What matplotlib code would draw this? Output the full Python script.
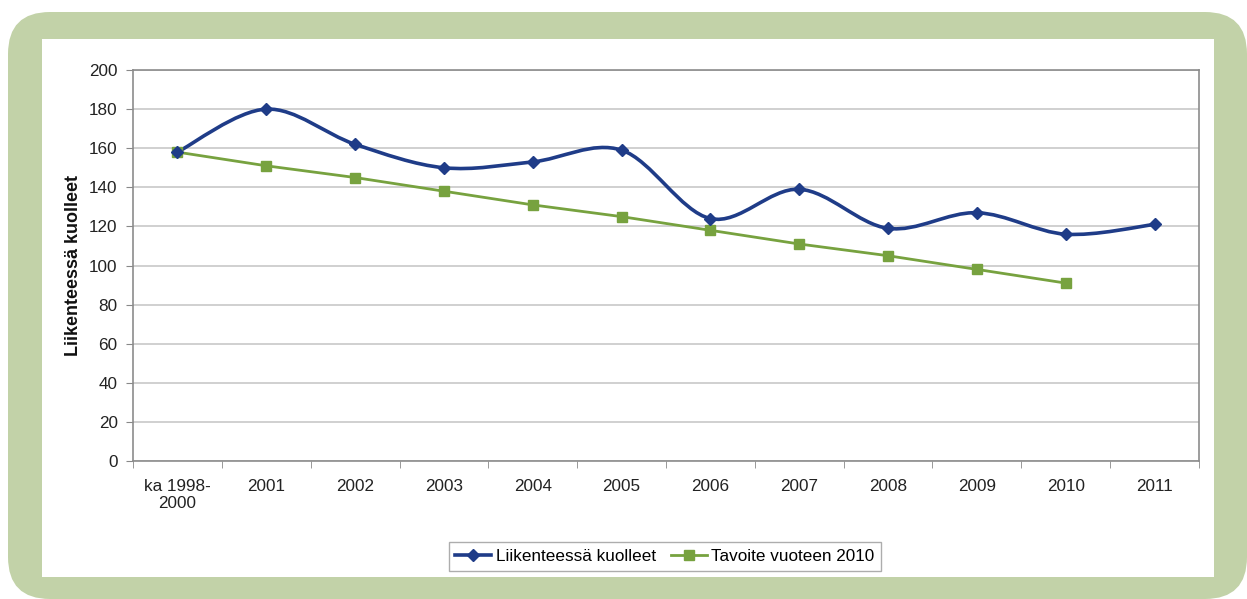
import matplotlib
matplotlib.use('Agg')
import matplotlib.pyplot as plt
from matplotlib.patches import FancyBboxPatch, Rectangle, PathPatch
from matplotlib.path import Path
from matplotlib.lines import Line2D
import numpy as np

plt.rcParams['font.family'] = ['Liberation Sans', 'DejaVu Sans']

# data
categories = ['ka 1998-\n2000', '2001', '2002', '2003', '2004', '2005',
              '2006', '2007', '2008', '2009', '2010', '2011']
kuolleet = [158, 180, 162, 150, 153, 159, 124, 139, 119, 127, 116, 121]
tavoite = [158, 151, 145, 138, 131, 125, 118, 111, 105, 98, 91]

blue = '#1F3C88'
green = '#77A23F'
frame_green = '#C2D2A8'

W, H = 1247, 599
fig = plt.figure(figsize=(W / 100, H / 100), dpi=100)
fig.patch.set_facecolor('white')


def px_box(x0, y0, x1, y1):
    # pixel box (top-left origin) -> inches, bottom-left origin
    return x0 / 100, (H - y1) / 100, (x1 - x0) / 100, (y1 - y0) / 100


x, y, w, h = px_box(8, 12, 1247, 599)
fig.patches.append(FancyBboxPatch((x + 0.42, y + 0.42), w - 0.84, h - 0.84,
                                  boxstyle='round,pad=0.42',
                                  transform=fig.dpi_scale_trans,
                                  facecolor=frame_green, edgecolor='none', zorder=0))
x, y, w, h = px_box(42, 39, 1214, 577)
fig.patches.append(Rectangle((x, y), w, h, transform=fig.dpi_scale_trans,
                             facecolor='white', edgecolor='none', zorder=1))

ax = fig.add_axes([133 / W, (H - 461) / H, 1066 / W, 391 / H])
ax.set_zorder(2)
ax.set_facecolor('white')

xs = np.arange(len(kuolleet))


def smooth_path(xv, yv, t=1 / 6):
    # Excel-style smoothed line as cubic Bezier segments through the points
    pts = np.column_stack([xv, yv]).astype(float)
    verts = [pts[0]]
    codes = [Path.MOVETO]
    n = len(pts)
    for i in range(n - 1):
        p0 = pts[i - 1] if i > 0 else pts[i]
        p1 = pts[i]
        p2 = pts[i + 1]
        p3 = pts[i + 2] if i + 2 < n else pts[i + 1]
        c1 = p1 + (p2 - p0) * t
        c2 = p2 - (p3 - p1) * t
        verts += [c1, c2, p2]
        codes += [Path.CURVE4] * 3
    return Path(verts, codes)


ax.add_patch(PathPatch(smooth_path(xs, kuolleet), facecolor='none',
                       edgecolor=blue, lw=2.6, zorder=3))
ax.plot(xs, kuolleet, linestyle='none', marker='D', markersize=6,
        color=blue, zorder=4)
ax.plot(np.arange(len(tavoite)), tavoite, color=green, lw=2.0,
        marker='s', markersize=7, zorder=3)

fs = 12.3
ax.set_xlim(-0.5, len(categories) - 0.5)
ax.set_ylim(0, 200)
ax.set_yticks(np.arange(0, 201, 20))
ax.set_xticks(xs)
ax.set_xticklabels(categories, fontsize=fs, color='#222222')
ax.set_xticks(np.arange(-0.5, len(categories) - 0.4, 1), minor=True)
ax.tick_params(axis='x', which='major', length=0, pad=13)
ax.tick_params(axis='x', which='minor', length=5, color='#888888')
ax.tick_params(axis='y', length=5, color='#888888', labelsize=fs,
               labelcolor='#222222', pad=6)
ax.grid(axis='y', color='#C8C8C8', lw=1.2)
ax.set_axisbelow(True)
for s in ax.spines.values():
    s.set_color('#8C8C8C')
    s.set_linewidth(1.2)

ax.set_ylabel('Liikenteessä kuolleet', fontsize=13, fontweight='bold',
              color='#111111', labelpad=5)

handles = [Line2D([], [], color=blue, lw=2.6, marker='D', markersize=6),
           Line2D([], [], color=green, lw=2.0, marker='s', markersize=7)]
leg = fig.legend(handles, ['Liikenteessä kuolleet', 'Tavoite vuoteen 2010'],
                 loc='lower center', bbox_to_anchor=(665 / W, (H - 571) / H),
                 ncol=2, fontsize=fs, frameon=True, fancybox=False,
                 edgecolor='#999999', handlelength=2.1, handletextpad=0.25,
                 columnspacing=0.9, borderpad=0.4, borderaxespad=0)
leg.get_frame().set_linewidth(1.0)
leg.set_zorder(5)

fig.savefig('out.png', dpi=100)
